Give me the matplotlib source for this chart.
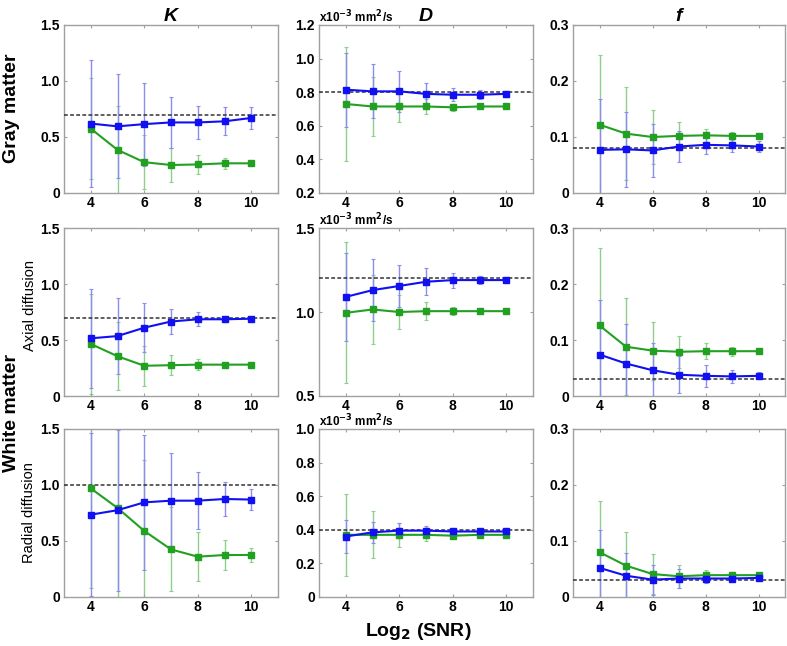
import matplotlib
matplotlib.use("Agg")
import matplotlib.pyplot as plt
from matplotlib.ticker import FuncFormatter

plt.rcParams['font.family'] = ['Liberation Sans', 'DejaVu Sans']

snr = [4, 5, 6, 7, 8, 9, 10]

# ---- Gray matter ----
gm_K_blue = [0.62, 0.595, 0.615, 0.63, 0.63, 0.64, 0.67]
gm_K_blue_err = [0.565, 0.465, 0.37, 0.23, 0.15, 0.125, 0.095]
gm_K_green = [0.575, 0.385, 0.275, 0.25, 0.255, 0.265, 0.265]
gm_K_green_err = [0.45, 0.39, 0.24, 0.15, 0.085, 0.05, 0.012]
gm_K_true = 0.70

gm_D_blue = [0.815, 0.805, 0.805, 0.79, 0.785, 0.785, 0.79]
gm_D_blue_err = [0.22, 0.16, 0.12, 0.065, 0.04, 0.028, 0.016]
gm_D_green = [0.73, 0.715, 0.715, 0.715, 0.71, 0.715, 0.715]
gm_D_green_err = [0.34, 0.175, 0.095, 0.045, 0.02, 0.01, 0.008]
gm_D_true = 0.80

gm_f_blue = [0.077, 0.078, 0.076, 0.083, 0.086, 0.085, 0.083]
gm_f_blue_err = [0.091, 0.067, 0.048, 0.028, 0.016, 0.011, 0.009]
gm_f_green = [0.122, 0.106, 0.100, 0.102, 0.103, 0.102, 0.102]
gm_f_green_err = [0.125, 0.083, 0.049, 0.024, 0.012, 0.007, 0.004]
gm_f_true = 0.08

# ---- White matter, axial ----
ax_K_blue = [0.515, 0.535, 0.61, 0.665, 0.685, 0.685, 0.69]
ax_K_blue_err = [0.44, 0.34, 0.22, 0.115, 0.062, 0.02, 0.015]
ax_K_green = [0.465, 0.355, 0.27, 0.275, 0.28, 0.28, 0.28]
ax_K_green_err = [0.445, 0.305, 0.18, 0.09, 0.05, 0.01, 0.01]
ax_K_true = 0.70

ax_D_blue = [1.09, 1.13, 1.155, 1.18, 1.19, 1.19, 1.19]
ax_D_blue_err = [0.26, 0.185, 0.125, 0.08, 0.045, 0.025, 0.012]
ax_D_green = [0.995, 1.015, 1.0, 1.005, 1.005, 1.005, 1.005]
ax_D_green_err = [0.42, 0.205, 0.10, 0.055, 0.025, 0.01, 0.008]
ax_D_true = 1.20

ax_f_blue = [0.074, 0.058, 0.046, 0.038, 0.036, 0.035, 0.036]
ax_f_blue_err = [0.098, 0.07, 0.048, 0.033, 0.02, 0.012, 0.006]
ax_f_green = [0.126, 0.088, 0.081, 0.079, 0.080, 0.080, 0.080]
ax_f_green_err = [0.138, 0.087, 0.052, 0.029, 0.014, 0.008, 0.004]
ax_f_true = 0.03

# ---- White matter, radial ----
rd_K_blue = [0.735, 0.775, 0.845, 0.86, 0.86, 0.875, 0.87]
rd_K_blue_err = [0.73, 0.72, 0.60, 0.43, 0.255, 0.155, 0.09]
rd_K_green = [0.97, 0.795, 0.59, 0.425, 0.36, 0.375, 0.375]
rd_K_green_err = [0.89, 0.8, 0.63, 0.375, 0.22, 0.13, 0.06]
rd_K_true = 1.00

rd_D_blue = [0.36, 0.385, 0.395, 0.395, 0.39, 0.39, 0.39]
rd_D_blue_err = [0.10, 0.063, 0.045, 0.03, 0.015, 0.01, 0.008]
rd_D_green = [0.37, 0.37, 0.37, 0.37, 0.365, 0.37, 0.37]
rd_D_green_err = [0.245, 0.14, 0.07, 0.035, 0.015, 0.008, 0.005]
rd_D_true = 0.40

rd_f_blue = [0.052, 0.038, 0.031, 0.033, 0.033, 0.033, 0.034]
rd_f_blue_err = [0.068, 0.041, 0.027, 0.017, 0.008, 0.005, 0.004]
rd_f_green = [0.080, 0.056, 0.041, 0.037, 0.039, 0.039, 0.039]
rd_f_green_err = [0.092, 0.06, 0.036, 0.021, 0.01, 0.005, 0.004]
rd_f_true = 0.03

col_titles = ['K', 'D', 'f']
x_ticks = [4, 6, 8, 10]

panels = [
    [(gm_K_blue, gm_K_blue_err, gm_K_green, gm_K_green_err, gm_K_true, (0, 1.5), [0, 0.5, 1.0, 1.5]),
     (gm_D_blue, gm_D_blue_err, gm_D_green, gm_D_green_err, gm_D_true, (0.2, 1.2), [0.2, 0.4, 0.6, 0.8, 1.0, 1.2]),
     (gm_f_blue, gm_f_blue_err, gm_f_green, gm_f_green_err, gm_f_true, (0, 0.3), [0, 0.1, 0.2, 0.3])],
    [(ax_K_blue, ax_K_blue_err, ax_K_green, ax_K_green_err, ax_K_true, (0, 1.5), [0, 0.5, 1.0, 1.5]),
     (ax_D_blue, ax_D_blue_err, ax_D_green, ax_D_green_err, ax_D_true, (0.5, 1.5), [0.5, 1.0, 1.5]),
     (ax_f_blue, ax_f_blue_err, ax_f_green, ax_f_green_err, ax_f_true, (0, 0.3), [0, 0.1, 0.2, 0.3])],
    [(rd_K_blue, rd_K_blue_err, rd_K_green, rd_K_green_err, rd_K_true, (0, 1.5), [0, 0.5, 1.0, 1.5]),
     (rd_D_blue, rd_D_blue_err, rd_D_green, rd_D_green_err, rd_D_true, (0, 1.0), [0, 0.2, 0.4, 0.6, 0.8, 1.0]),
     (rd_f_blue, rd_f_blue_err, rd_f_green, rd_f_green_err, rd_f_true, (0, 0.3), [0, 0.1, 0.2, 0.3])],
]

W, H = 787, 646
fig = plt.figure(figsize=(W / 100, H / 100), dpi=100)

col_left = [64, 319, 573]
col_w = [214, 214, 212]
row_top = [25, 228, 429]
row_h = 168

BLUE = '#1010f0'
GREEN = '#22a022'
BLUE_E = '#8c8cee'
GREEN_E = '#8cd08c'
SPINE = '#a0a0a0'


def fmt(v, pos):
    if abs(v) < 1e-9:
        return '0'
    return '%.1f' % v


for r in range(3):
    for c in range(3):
        b, be, g, ge, true, ylim, yt = panels[r][c]
        ax = fig.add_axes([col_left[c] / W, 1 - (row_top[r] + row_h) / H,
                           col_w[c] / W, row_h / H])
        ax.errorbar(snr, g, yerr=ge, fmt='none', ecolor=GREEN_E, elinewidth=1,
                    capsize=1.5, capthick=0.8, zorder=1)
        ax.errorbar(snr, b, yerr=be, fmt='none', ecolor=BLUE_E, elinewidth=1,
                    capsize=1.5, capthick=0.8, zorder=2)
        ax.axhline(true, color='#333333', ls=(0, (2.5, 1.5)), lw=1.1, zorder=3)
        ax.plot(snr, g, color=GREEN, lw=1.5, marker='s', ms=5, zorder=4)
        ax.plot(snr, b, color=BLUE, lw=1.5, marker='s', ms=5, zorder=5)
        ax.set_xlim(3, 11)
        ax.set_ylim(*ylim)
        ax.set_xticks(x_ticks)
        ax.set_yticks(yt)
        ax.yaxis.set_major_formatter(FuncFormatter(fmt))
        ax.tick_params(direction='in', length=2.5, color=SPINE, top=True, right=True,
                       labelsize=10, pad=3)
        ax.tick_params(axis='x', pad=2.5)
        for lab in ax.get_xticklabels() + ax.get_yticklabels():
            lab.set_fontweight('bold')
        for sp in ax.spines.values():
            sp.set_color(SPINE)
            sp.set_linewidth(1)
        if r == 0:
            ax.set_title(col_titles[c], fontsize=14, fontweight='bold',
                         fontstyle='italic', pad=3)
        if c == 1:
            ax.text(0.0, 1.0, r'x10$^{\mathbf{-3}}$ mm$^{\mathbf{2}}$/s',
                    transform=ax.transAxes, fontsize=8.5, fontweight='bold',
                    ha='left', va='bottom')

fig.text(12 / W, 1 - 108 / H, 'Gray matter', rotation=90, fontsize=14,
         fontweight='bold', ha='center', va='center')
fig.text(12 / W, 1 - 413 / H, 'White matter', rotation=90, fontsize=14,
         fontweight='bold', ha='center', va='center')
fig.text(30 / W, 1 - 306 / H, 'Axial diffusion', rotation=90, fontsize=10.5,
         ha='center', va='center')
fig.text(29 / W, 1 - 513 / H, 'Radial diffusion', rotation=90, fontsize=10.5,
         ha='center', va='center')
fig.text(418 / W, 1 - 632 / H, r'Log$_{\mathbf{2}}$ (SNR)', fontsize=14,
         fontweight='bold', ha='center', va='center')

fig.savefig('out.png', dpi=100, facecolor='white')
